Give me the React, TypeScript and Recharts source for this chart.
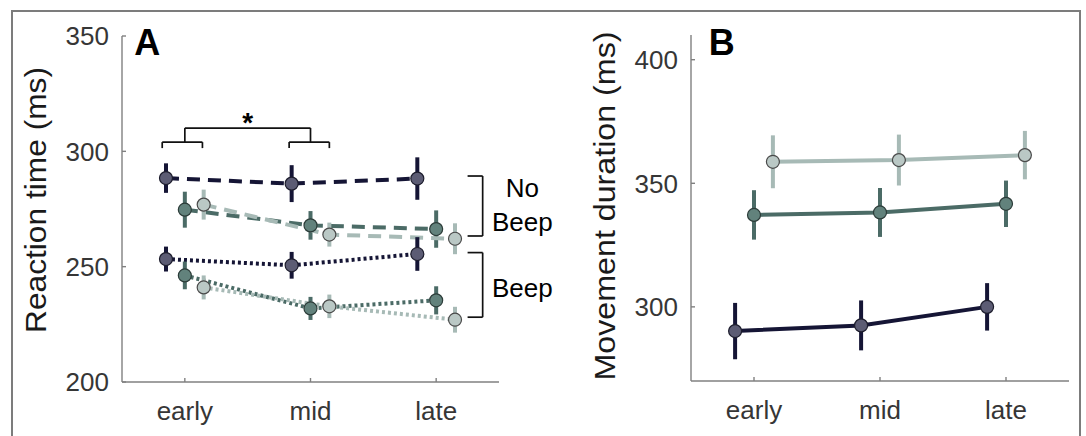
import React from 'react'
import { LineChart, Line, XAxis, YAxis, ErrorBar, ReferenceLine, ReferenceDot } from 'recharts'

const phases = ['early', 'mid', 'late']

// A: reaction time (ms), mean and sem per phase
const rtNoBeepDark = [288.4, 286.0, 288.2]
const rtNoBeepDarkSem = [6.4, 8.0, 9.2]
const rtNoBeepTeal = [274.7, 267.9, 266.3]
const rtNoBeepTealSem = [7.8, 6.2, 8.1]
const rtNoBeepLight = [276.9, 263.9, 262.1]
const rtNoBeepLightSem = [6.5, 5.2, 6.7]
const rtBeepDark = [253.3, 250.6, 255.5]
const rtBeepDarkSem = [5.4, 5.8, 7.3]
const rtBeepTeal = [246.2, 231.9, 235.4]
const rtBeepTealSem = [6.0, 5.0, 6.1]
const rtBeepLight = [241.0, 232.8, 227.0]
const rtBeepLightSem = [5.2, 5.1, 5.6]

// B: movement duration (ms)
const mdDark = [290.2, 292.5, 300.0]
const mdDarkSem = [11.4, 10.1, 9.6]
const mdTeal = [337.2, 338.2, 341.7]
const mdTealSem = [10.0, 9.9, 9.4]
const mdLight = [358.7, 359.4, 361.4]
const mdLightSem = [10.7, 10.3, 9.8]

const rtTicks = [200, 250, 300, 350]
const mdTicks = [300, 350, 400]

// bracket annotations of panel A, in data units: x1, y1, x2, y2
const brackets: [number, number, number, number][] = [
  [1, 310.1, 2, 310.1], [1, 310.1, 1, 304], [2, 310.1, 2, 304],
  [0.82, 304, 1.14, 304], [0.82, 304, 0.82, 301.4], [1.14, 304, 1.14, 301.4],
  [1.83, 304, 2.15, 304], [1.83, 304, 1.83, 301.4], [2.15, 304, 2.15, 301.4],
  [3.25, 289.3, 3.37, 289.3], [3.37, 289.3, 3.37, 263.3], [3.25, 263.3, 3.37, 263.3],
  [3.25, 256.1, 3.37, 256.1], [3.37, 256.1, 3.37, 228.1], [3.25, 228.1, 3.37, 228.1],
]

const FONT = '"Liberation Sans", Arial, Helvetica, sans-serif'
const AXIS = '#808080'
const TICK_TXT = '#363636'

const DARK = { line: '#151535', fill: '#5c5c74', edge: '#1c1c2c' }
const TEAL = { line: '#4b6b66', fill: '#62827c', edge: '#2c3c39' }
const LIGHT = { line: '#a7bab6', fill: '#bac8c5', edge: '#4a4a4a' }

const DODGE = [-0.15, 0, 0.15]

const rows = (vals: number[], sem: number[], shift: number) =>
  phases.map((_, i) => ({ x: i + 1 + shift, y: vals[i], e: sem[i] }))

const marker = (c: typeof DARK) => (p: any) =>
  p.cx == null ? <g key={p.index} /> : (
    <circle key={p.index} cx={p.cx} cy={p.cy} r={6.5} fill={c.fill} stroke={c.edge} strokeWidth={1.2} />
  )

function YTitle({ viewBox, text, len, cy }: any) {
  const x = viewBox.x + viewBox.width - 76
  return (
    <text x={x} y={cy} transform={`rotate(-90 ${x} ${cy})`} textAnchor="middle"
      fontSize={29} fill="#1a1a1a" textLength={len} lengthAdjust="spacingAndGlyphs">
      {text}
    </text>
  )
}

function series(vals: number[], sem: number[], c: typeof DARK, shift: number, dash?: string, key?: string) {
  return (
    <Line key={key} data={rows(vals, sem, shift)} dataKey="y" type="linear" stroke={c.line} strokeWidth={4}
      strokeDasharray={dash} dot={marker(c)} activeDot={false} isAnimationActive={false}>
      <ErrorBar dataKey="e" direction="y" width={0} stroke={c.line} strokeWidth={4} />
    </Line>
  )
}

const xAxis = (
  <XAxis type="number" dataKey="x" domain={[0.5, 3.5]} ticks={[1, 2, 3]} interval={0}
    tickFormatter={(v) => phases[Math.round(v) - 1]} allowDataOverflow height={40}
    tickSize={-4} tickMargin={24} stroke={AXIS} strokeWidth={1.4}
    tick={{ fill: TICK_TXT, fontSize: 26 }} />
)

function Label(x: number, y: number, value: string, size: number, bold = false) {
  return (
    <ReferenceDot key={value + y} x={x} y={y} r={0} ifOverflow="visible"
      label={{ value, position: 'center', fontSize: size, fontWeight: bold ? 700 : 400, fill: '#000' }} />
  )
}

export default function App() {
  return (
    <div style={{ position: 'absolute', left: 0, top: 0, width: 1086, height: 436, background: '#fff', overflow: 'hidden', fontFamily: FONT }}>
      <div style={{ position: 'absolute', left: 11, top: 10, width: 1066, height: 460, border: '2px solid #7c7c7c' }} />

      <div style={{ position: 'absolute', left: 0, top: 0 }}>
        <LineChart width={560} height={436} margin={{ top: 36, right: 61, bottom: 14, left: 22 }}>
          {xAxis}
          <YAxis type="number" domain={[200, 350]} ticks={rtTicks} allowDataOverflow width={100}
            tickSize={-4} tickMargin={17} stroke={AXIS} strokeWidth={1.4}
            tick={{ fill: TICK_TXT, fontSize: 26 }}
            label={<YTitle text="Reaction time (ms)" len={266} cy={200} />} />
          {brackets.map(([x1, y1, x2, y2], i) => (
            <ReferenceLine key={i} segment={[{ x: x1, y: y1 }, { x: x2, y: y2 }]} stroke="#111"
              strokeWidth={1.7} ifOverflow="visible" />
          ))}
          {series(rtNoBeepDark, rtNoBeepDarkSem, DARK, DODGE[0], '13 8', 'nd')}
          {series(rtNoBeepTeal, rtNoBeepTealSem, TEAL, DODGE[1], '13 8', 'nt')}
          {series(rtNoBeepLight, rtNoBeepLightSem, LIGHT, DODGE[2], '13 8', 'nl')}
          {series(rtBeepDark, rtBeepDarkSem, DARK, DODGE[0], '3 3', 'bd')}
          {series(rtBeepTeal, rtBeepTealSem, TEAL, DODGE[1], '3 3', 'bt')}
          {series(rtBeepLight, rtBeepLightSem, LIGHT, DODGE[2], '3 3', 'bl')}
          {Label(0.7, 347.1, 'A', 36, true)}
          {Label(1.5, 312.6, '*', 28, true)}
          {Label(3.686, 284.0, 'No', 26)}
          {Label(3.686, 269.5, 'Beep', 26)}
          {Label(3.686, 240.7, 'Beep', 26)}
        </LineChart>
      </div>

      <div style={{ position: 'absolute', left: 560, top: 0 }}>
        <LineChart width={526} height={436} margin={{ top: 35, right: 17, bottom: 15, left: 31 }}>
          {xAxis}
          <YAxis type="number" domain={[270, 410]} ticks={mdTicks} allowDataOverflow width={100}
            tickSize={-4} tickMargin={17} stroke={AXIS} strokeWidth={1.4}
            tick={{ fill: TICK_TXT, fontSize: 26 }}
            label={<YTitle text="Movement duration (ms)" len={349} cy={206} />} />
          {series(mdDark, mdDarkSem, DARK, DODGE[0], undefined, 'd')}
          {series(mdTeal, mdTealSem, TEAL, DODGE[1], undefined, 't')}
          {series(mdLight, mdLightSem, LIGHT, DODGE[2], undefined, 'l')}
          {Label(0.745, 407.0, 'B', 36, true)}
        </LineChart>
      </div>
    </div>
  )
}
